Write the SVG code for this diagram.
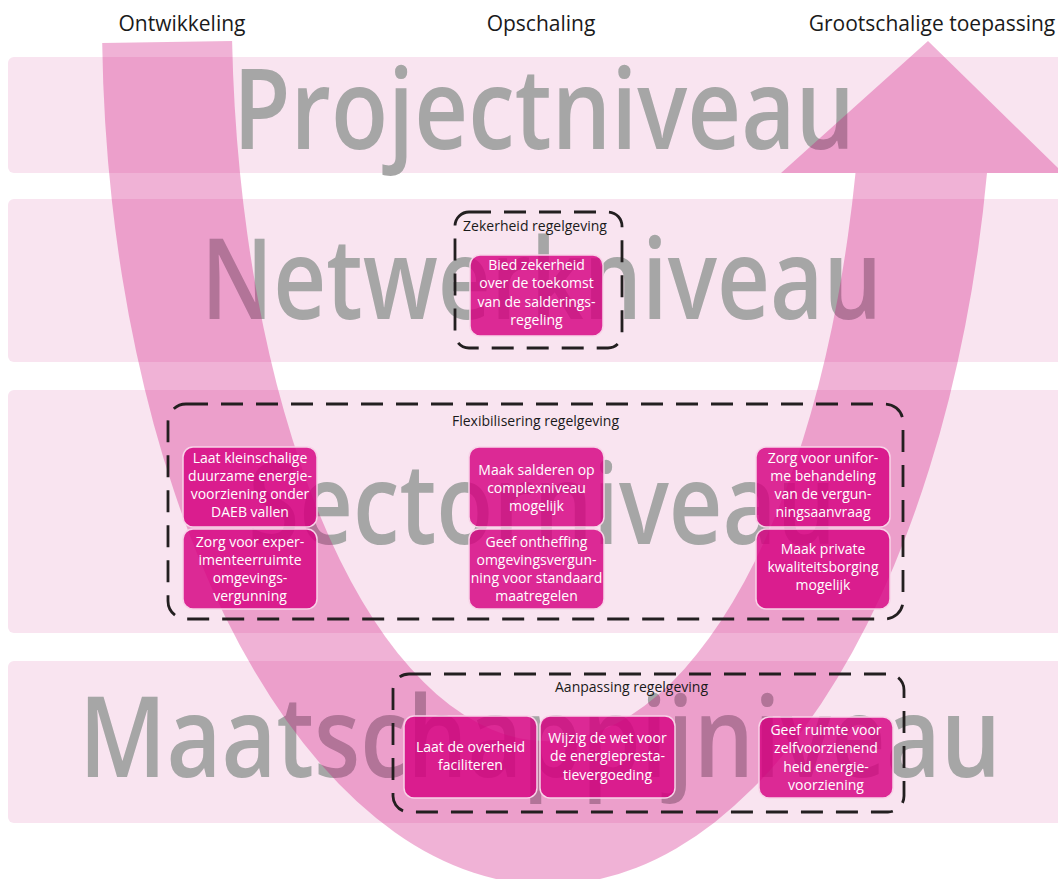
<svg xmlns="http://www.w3.org/2000/svg" width="1058" height="879" viewBox="0 0 1058 879">
<style>
.band{fill:#f9e4f0}
.big{font-family:"Open Sans","Noto Sans",sans-serif;font-size:113px;font-weight:600;fill:#a6a6a6}
.lbl{font-family:"Open Sans","Noto Sans",sans-serif;font-size:21px;fill:#1a1a1a;text-anchor:middle}
.glbl{font-family:"Open Sans","Noto Sans",sans-serif;font-size:14px;fill:#1a1a1a}
.grp{fill:none;stroke:#231f20;stroke-width:2.8;stroke-dasharray:22 13}
.node rect{fill:#d50080;fill-opacity:0.82;stroke:#f8d3e8;stroke-width:1.5}
.node text{font-family:"Open Sans","Noto Sans",sans-serif;font-size:14px;fill:#ffffff;text-anchor:middle}
</style>
<rect width="1058" height="879" fill="#ffffff"/>
<g id="bands">
<rect class="band" x="8" y="57" width="1060" height="116" rx="6"/>
<rect class="band" x="8" y="199" width="1060" height="163" rx="6"/>
<rect class="band" x="8" y="390" width="1060" height="243" rx="6"/>
<rect class="band" x="8" y="661" width="1060" height="162" rx="6"/>
</g>
<g id="levels">
<text class="big" x="233" y="149" textLength="622" lengthAdjust="spacingAndGlyphs">Projectniveau</text>
<text class="big" x="201" y="319" textLength="681" lengthAdjust="spacingAndGlyphs">Netwerkniveau</text>
<text class="big" x="248" y="544" textLength="588" lengthAdjust="spacingAndGlyphs">Sectorniveau</text>
<text class="big" x="79" y="777" textLength="922" lengthAdjust="spacingAndGlyphs">Maatschappijniveau</text>
</g>
<g id="connectors">
<path id="big-arrow" d="M 102.2 43 A 446 865 0 0 0 987 173 L 1063 173 L 928 41 L 781 173 L 855.5 173 A 316 735 0 0 1 232.1 41 Z" fill="#cc0077" fill-opacity="0.3"/>
</g>
<g id="phase-labels">
<text class="lbl" x="182" y="31">Ontwikkeling</text>
<text class="lbl" x="541" y="31">Opschaling</text>
<text class="lbl" x="932" y="31">Grootschalige toepassing</text>
</g>
<g id="group-zekerheid">
<rect class="grp" x="455" y="212" width="167" height="136" rx="14"/>
<text class="glbl" x="535" y="231" text-anchor="middle">Zekerheid regelgeving</text>
</g>
<g id="group-flex">
<rect class="grp" x="168" y="404" width="735" height="215" rx="18"/>
<text class="glbl" x="535.5" y="426" text-anchor="middle">Flexibilisering regelgeving</text>
</g>
<g id="group-aanpassing">
<rect class="grp" x="393" y="674" width="511" height="138" rx="16"/>
<text class="glbl" x="555" y="692">Aanpassing regelgeving</text>
</g>
<g id="node-bied" class="node">
<rect x="470" y="255" width="133" height="81" rx="10"/>
<text x="536.5" y="270">Bied zekerheid</text>
<text x="536.5" y="288">over de toekomst</text>
<text x="536.5" y="306.5">van de salderings-</text>
<text x="536.5" y="324.5">regeling</text>
</g>
<g id="node-laat-kleinschalig" class="node">
<rect x="183" y="447" width="134" height="80" rx="10"/>
<text x="250" y="463">Laat kleinschalige</text>
<text x="250" y="481">duurzame energie-</text>
<text x="250" y="499">voorziening onder</text>
<text x="250" y="517">DAEB vallen</text>
</g>
<g id="node-experimenteer" class="node">
<rect x="183" y="529" width="134" height="80" rx="10"/>
<text x="250" y="546.5">Zorg voor exper-</text>
<text x="250" y="564.5">imenteerruimte</text>
<text x="250" y="582.5">omgevings-</text>
<text x="250" y="600.5">vergunning</text>
</g>
<g id="node-salderen" class="node">
<rect x="469" y="447" width="135" height="80" rx="10"/>
<text x="536.5" y="475">Maak salderen op</text>
<text x="536.5" y="493">complexniveau</text>
<text x="536.5" y="511">mogelijk</text>
</g>
<g id="node-ontheffing" class="node">
<rect x="469" y="529" width="135" height="80" rx="10"/>
<text x="536.5" y="546.5">Geef ontheffing</text>
<text x="536.5" y="564.5">omgevingsvergun-</text>
<text x="536.5" y="582.5">ning voor standaard</text>
<text x="536.5" y="600.5">maatregelen</text>
</g>
<g id="node-uniform" class="node">
<rect x="756" y="447" width="134" height="80" rx="10"/>
<text x="823" y="463">Zorg voor unifor-</text>
<text x="823" y="481">me behandeling</text>
<text x="823" y="499">van de vergun-</text>
<text x="823" y="517">ningsaanvraag</text>
</g>
<g id="node-kwaliteit" class="node">
<rect x="756" y="529" width="134" height="80" rx="10"/>
<text x="823" y="553.5">Maak private</text>
<text x="823" y="571.5">kwaliteitsborging</text>
<text x="823" y="589.5">mogelijk</text>
</g>
<g id="node-overheid" class="node">
<rect x="404" y="716" width="133" height="82" rx="10"/>
<text x="470.5" y="751.5">Laat de overheid</text>
<text x="470.5" y="770">faciliteren</text>
</g>
<g id="node-wijzig" class="node">
<rect x="540" y="716" width="135" height="82" rx="10"/>
<text x="607.5" y="742.5">Wijzig de wet voor</text>
<text x="607.5" y="761">de energiepresta-</text>
<text x="607.5" y="779.5">tievergoeding</text>
</g>
<g id="node-zelfvoorzienend" class="node">
<rect x="759" y="717" width="134" height="81" rx="10"/>
<text x="826" y="734.5">Geef ruimte voor</text>
<text x="826" y="753">zelfvoorzienend</text>
<text x="826" y="771.5">heid energie-</text>
<text x="826" y="790">voorziening</text>
</g>
</svg>
